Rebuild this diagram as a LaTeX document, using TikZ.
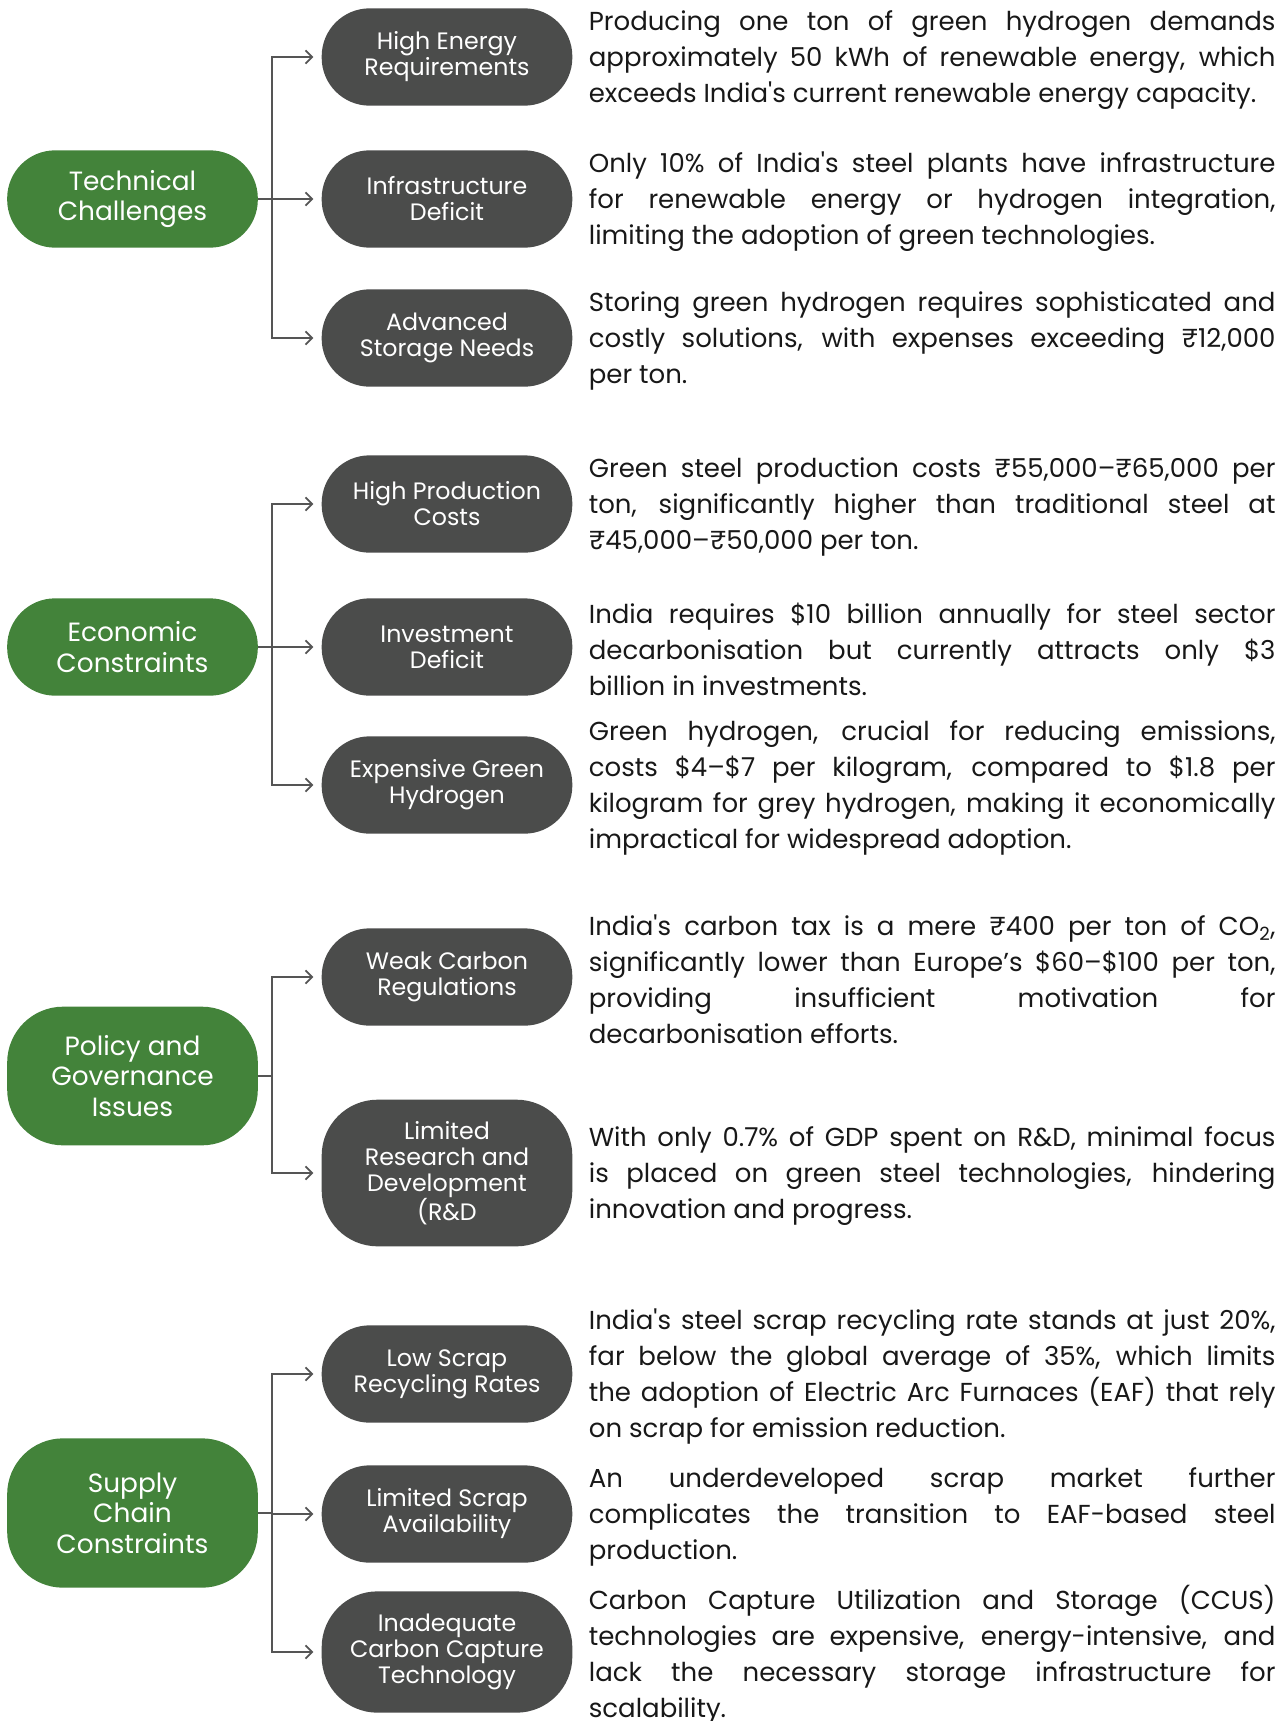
\documentclass[tikz,border=0pt]{standalone}
\usepackage{fontspec}
\setmainfont{Poppins}[Ligatures=TeXOff]
\usetikzlibrary{positioning,arrows.meta}

\definecolor{leafgreen}{RGB}{67,131,58}
\definecolor{slate}{RGB}{75,76,75}
\definecolor{wire}{RGB}{85,85,85}
\definecolor{ink}{RGB}{24,24,24}

\hyphenpenalty=10000
\exhyphenpenalty=10000

\tikzset{
  cat/.style={fill=leafgreen, text=white, rounded corners=36pt, minimum width=188pt,
    minimum height=73pt, align=center, inner sep=0pt, font=\fontsize{19.8}{23}\selectfont},
  item/.style={fill=slate, text=white, rounded corners=36pt, minimum width=188pt,
    minimum height=73pt, align=center, inner sep=0pt, font=\fontsize{17.8}{19.5}\selectfont},
  tall/.style={rounded corners=42pt, minimum height=#1},
  desc/.style={text=ink, text width=515pt, align=justify, inner sep=0pt, anchor=west,
    yshift=-2pt, font=\fontsize{19.5}{27}\selectfont},
  link/.style={draw=wire, line width=1.3pt},
  tip/.style={-{Straight Barb[length=5pt,width=10pt]}, shorten >=6pt}
}

\begin{document}
\begin{tikzpicture}[x=0.75pt,y=-0.75pt]

\useasboundingbox (0,0) rectangle (1288,1721);

% groups
\node[cat] (tech) at (132.5,199) {Technical\\Challenges};
\node[cat] (econ) at (132.5,647) {Economic\\Constraints};
\node[cat, tall=104pt] (policy) at (132.5,1076) {Policy and\\Governance\\Issues};
\node[cat, tall=112pt] (supply) at (132.5,1513) {Supply\\Chain\\Constraints};

% items
\node[item] (hier) at (447,57) {High Energy\\Requirements};
\node[item] (infra) at (447,199) {Infrastructure\\Deficit};
\node[item] (stor) at (447,338) {Advanced\\Storage Needs};
\node[item] (hprod) at (447,504) {High Production\\Costs};
\node[item] (invest) at (447,647) {Investment\\Deficit};
\node[item] (exph) at (447,785) {Expensive Green\\Hydrogen};
\node[item] (weak) at (447,977) {Weak Carbon\\Regulations};
\node[item, tall=110pt] (lrd) at (447,1173) {Limited\\Research and\\Development\\(R\&D};
\node[item] (lscrap) at (447,1374) {Low Scrap\\Recycling Rates};
\node[item] (avail) at (447,1514) {Limited Scrap\\Availability};
\node[item, tall=91pt] (ccus) at (447,1652) {Inadequate\\Carbon Capture\\Technology};

% descriptions
\node[desc, right=12pt of hier] (dhier) {Producing one ton of green hydrogen demands\linebreak
approximately 50 kWh of renewable energy, which\linebreak
exceeds India's current renewable energy capacity.};
\node[desc, right=12pt of infra] (dinfra) {Only 10\% of India's steel plants have infrastructure\linebreak
for renewable energy or hydrogen integration,\linebreak
limiting the adoption of green technologies.};
\node[desc, right=12pt of stor] (dstor) {Storing green hydrogen requires sophisticated and\linebreak
costly solutions, with expenses exceeding ₹12,000\linebreak
per ton.};
\node[desc, right=12pt of hprod] (dhprod) {Green steel production costs ₹55,000–₹65,000 per\linebreak
ton, significantly higher than traditional steel at\linebreak
₹45,000–₹50,000 per ton.};
\node[desc, right=12pt of invest] (dinvest) {India requires \$10 billion annually for steel sector\linebreak
decarbonisation but currently attracts only \$3\linebreak
billion in investments.};
\node[desc, right=12pt of exph] (dexph) {Green hydrogen, crucial for reducing emissions,\linebreak
costs \$4–\$7 per kilogram, compared to \$1.8 per\linebreak
kilogram for grey hydrogen, making it economically\linebreak
impractical for widespread adoption.};
\node[desc, right=12pt of weak] (dweak) {India's carbon tax is a mere ₹400 per ton of CO\textsubscript{2},\linebreak
significantly lower than Europe’s \$60–\$100 per ton,\linebreak
providing insufficient motivation for\linebreak
decarbonisation efforts.};
\node[desc, right=12pt of lrd] (dlrd) {With only 0.7\% of GDP spent on R\&D, minimal focus\linebreak
is placed on green steel technologies, hindering\linebreak
innovation and progress.};
\node[desc, right=12pt of lscrap] (dlscrap) {India's steel scrap recycling rate stands at just 20\%,\linebreak
far below the global average of 35\%, which limits\linebreak
the adoption of Electric Arc Furnaces (EAF) that rely\linebreak
on scrap for emission reduction.};
\node[desc, right=12pt of avail] (davail) {An underdeveloped scrap market further\linebreak
complicates the transition to EAF-based steel\linebreak
production.};
\node[desc, right=12pt of ccus] (dccus) {Carbon Capture Utilization and Storage (CCUS)\linebreak
technologies are expensive, energy-intensive, and\linebreak
lack the necessary storage infrastructure for\linebreak
scalability.};

% connectors
\path (tech.east) ++(14,0) coordinate (jtech);
\path (econ.east) ++(14,0) coordinate (jecon);
\path (policy.east) ++(14,0) coordinate (jpolicy);
\path (supply.east) ++(14,0) coordinate (jsupply);

\foreach \g in {tech,econ,policy,supply}
    \draw[link] (\g.east) -- (j\g);

\foreach \c in {hier,infra,stor}
    \draw[link, tip] (jtech) |- (\c.west);
\foreach \c in {hprod,invest,exph}
    \draw[link, tip] (jecon) |- (\c.west);
\foreach \c in {weak,lrd}
    \draw[link, tip] (jpolicy) |- (\c.west);
\foreach \c in {lscrap,avail,ccus}
    \draw[link, tip] (jsupply) |- (\c.west);

\end{tikzpicture}
\end{document}
